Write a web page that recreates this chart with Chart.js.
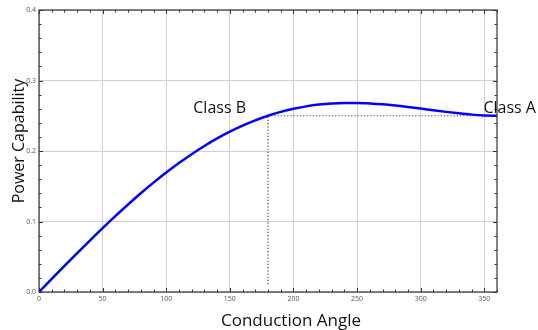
<!DOCTYPE html>
<html>
<head>
<meta charset="utf-8">
<script src="https://cdn.jsdelivr.net/npm/chart.js@4/dist/chart.umd.min.js"></script>
<style>
html,body{margin:0;padding:0;background:#fff;}
#wrap{width:538px;height:330px;}
</style>
</head>
<body>
<div id="wrap"><canvas id="c" width="538" height="330"></canvas></div>
<script>
// Conduction angle (degrees)
const angles = [0,10,20,30,40,50,60,70,80,90,100,110,120,130,140,150,160,170,180,190,200,210,220,230,240,250,260,270,280,290,300,310,320,330,340,350,360];
// Power capability
const power = [0,0.0185,0.0369,0.0551,0.0730,0.0906,0.1076,0.1241,0.1400,0.1551,0.1694,0.1829,0.1955,0.2071,0.2178,0.2274,0.2360,0.2435,0.2500,0.2555,0.2599,0.2633,0.2658,0.2674,0.2682,0.2682,0.2675,0.2663,0.2646,0.2625,0.2602,0.2578,0.2555,0.2534,0.2516,0.2504,0.2500];
// Reference (dotted) guide lines
const guideVX = [180,180];
const guideVY = [0.011,0.25];
const guideHX = [180,360];
const guideHY = [0.25,0.25];
// Class labels
const classLabels = ["Class B","Class A"];
const classAngles = [142,370];
const classPower = [0.261,0.261];
// Ticks
const xTickValues = [0,50,100,150,200,250,300,350];
const yTickValues = [0,0.1,0.2,0.3,0.4];
const xTitle = "Conduction Angle";
const yTitle = "Power Capability";

const FONT = "'Open Sans', sans-serif";

const framePlugin = {
  id: 'frame',
  afterDraw(chart){
    const ctx = chart.ctx, a = chart.chartArea;
    const xs = chart.scales.x, ys = chart.scales.y;
    ctx.save();
    ctx.strokeStyle = '#333';
    ctx.lineWidth = 1.2;
    ctx.strokeRect(a.left, a.top, a.right - a.left, a.bottom - a.top);
    ctx.lineWidth = 1;
    ctx.beginPath();
    for (let v = 0; v <= 360; v += 10){
      const px = Math.round(xs.getPixelForValue(v)) + 0.5;
      const len = (v % 50 === 0) ? 4 : 2.5;
      ctx.moveTo(px, a.bottom); ctx.lineTo(px, a.bottom - len);
      ctx.moveTo(px, a.top); ctx.lineTo(px, a.top + len);
    }
    for (let i = 0; i <= 20; i++){
      const v = i * 0.02;
      const py = Math.round(ys.getPixelForValue(v)) + 0.5;
      const len = (i % 5 === 0) ? 4 : 2.5;
      ctx.moveTo(a.left, py); ctx.lineTo(a.left + len, py);
      ctx.moveTo(a.right, py); ctx.lineTo(a.right - len, py);
    }
    ctx.stroke();
    // class labels
    ctx.fillStyle = '#111';
    ctx.font = '16px ' + FONT;
    ctx.textAlign = 'center';
    ctx.textBaseline = 'middle';
    classLabels.forEach((t, i) => {
      ctx.fillText(t, xs.getPixelForValue(classAngles[i]), ys.getPixelForValue(classPower[i]));
    });
    // axis titles
    ctx.textBaseline = 'alphabetic';
    ctx.font = '17px ' + FONT;
    ctx.fillText(xTitle, (a.left + a.right) / 2 + 23, 326);
    ctx.save();
    ctx.translate(24, (a.top + a.bottom) / 2 - 10);
    ctx.rotate(-Math.PI / 2);
    ctx.font = '16px ' + FONT;
    ctx.fillText(yTitle, 0, 0);
    ctx.restore();
    ctx.restore();
  }
};

new Chart(document.getElementById('c'), {
  type: 'scatter',
  data: {
    datasets: [
      {
        data: angles.map((x, i) => ({x, y: power[i]})),
        showLine: true,
        borderColor: '#0000ff',
        borderWidth: 2.5,
        pointRadius: 0,
        cubicInterpolationMode: 'monotone',
        order: 0
      },
      {
        data: guideVX.map((x, i) => ({x, y: guideVY[i]})),
        showLine: true,
        borderColor: '#444',
        borderWidth: 1.2,
        borderDash: [1.2, 2],
        pointRadius: 0,
        order: 1
      },
      {
        data: guideHX.map((x, i) => ({x, y: guideHY[i]})),
        showLine: true,
        borderColor: '#444',
        borderWidth: 1.2,
        borderDash: [1.2, 2],
        pointRadius: 0,
        order: 1
      }
    ]
  },
  options: {
    responsive: false,
    animation: false,
    layout: { padding: { left: 0, top: 10, right: 41, bottom: 0 } },
    plugins: { legend: { display: false }, tooltip: { enabled: false } },
    scales: {
      x: {
        type: 'linear', min: 0, max: 360,
        afterFit(s){ s.height = 38; },
        afterBuildTicks(s){ s.ticks = xTickValues.map(v => ({value: v})); },
        grid: { color: '#d0d0d0', lineWidth: 1, drawTicks: false },
        border: { display: false },
        ticks: { padding: 3, color: '#555', font: { size: 7, family: FONT }, maxRotation: 0, autoSkip: false,
                 callback: v => String(v) },
        title: { display: false }
      },
      y: {
        type: 'linear', min: 0, max: 0.4,
        afterFit(s){ s.width = 39; },
        afterBuildTicks(s){ s.ticks = yTickValues.map(v => ({value: v})); },
        grid: { color: '#d0d0d0', lineWidth: 1, drawTicks: false },
        border: { display: false },
        ticks: { padding: 3, color: '#555', font: { size: 7, family: FONT }, autoSkip: false,
                 callback: v => Number(v).toFixed(1) },
        title: { display: false }
      }
    }
  },
  plugins: [framePlugin]
});
</script>
</body>
</html>
